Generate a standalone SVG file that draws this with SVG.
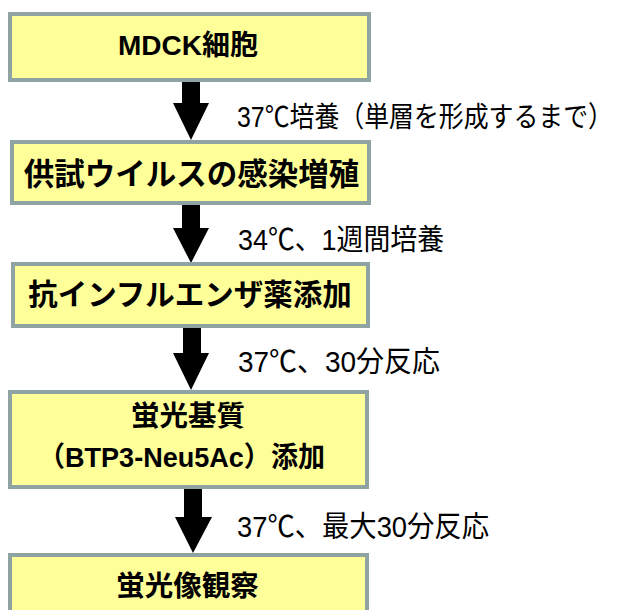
<svg xmlns="http://www.w3.org/2000/svg" width="622" height="610" viewBox="0 0 622 610">
<style>
.box{fill:#ffff99;stroke:#8fa3a3;stroke-width:4}
.bt{font-family:"Liberation Sans","Noto Sans CJK JP",sans-serif;font-weight:bold;fill:#000;text-anchor:middle}
.lb{font-family:"Liberation Sans","Noto Sans CJK JP",sans-serif;font-size:29px;fill:#000}
.arr{fill:#000}
</style>
<rect width="622" height="610" fill="#fff"/>
<g id="connectors">
<polygon class="arr" points="182,82 200,82 200,103 209,103 191,140 173,103 182,103"/>
<polygon class="arr" points="182,205 200,205 200,228 209,228 191,263 173,228 182,228"/>
<polygon class="arr" points="183,328 201,328 201,353 209,353 191,390 173,353 183,353"/>
<polygon class="arr" points="184,489 202,489 202,517 212,517 193,553 175,517 184,517"/>
<text class="lb" transform="translate(237,127) scale(1,1.15)" x="0" y="0" font-size="25" style="font-size:25px" textLength="376" lengthAdjust="spacingAndGlyphs">37℃培養（単層を形成するまで）</text>
<text class="lb" x="238" y="250" textLength="206" lengthAdjust="spacingAndGlyphs">34℃、1週間培養</text>
<text class="lb" x="238" y="372" textLength="202" lengthAdjust="spacingAndGlyphs">37℃、30分反応</text>
<text class="lb" x="237" y="537" textLength="252" lengthAdjust="spacingAndGlyphs">37℃、最大30分反応</text>
</g>
<g id="node1">
<rect class="box" x="10" y="14" width="359" height="66"/>
<text class="bt" x="188" y="55" font-size="28">MDCK細胞</text>
</g>
<g id="node2">
<rect class="box" x="12" y="142" width="357" height="61"/>
<text class="bt" x="191.5" y="185" font-size="30.5">供試ウイルスの感染増殖</text>
</g>
<g id="node3">
<rect class="box" x="13" y="264" width="355" height="62"/>
<text class="bt" x="190" y="305" font-size="29.5">抗インフルエンザ薬添加</text>
</g>
<g id="node4">
<rect class="box" x="10" y="392" width="357" height="95"/>
<text class="bt" x="188" y="426" font-size="28.5">蛍光基質</text>
<text class="bt" x="38" y="467" font-size="28" style="text-anchor:start" textLength="287" lengthAdjust="spacingAndGlyphs">（BTP3-Neu5Ac）添加</text>
</g>
<g id="node5">
<rect class="box" x="10" y="555" width="357" height="70"/>
<text class="bt" x="187.5" y="596" font-size="28.5">蛍光像観察</text>
</g>
</svg>
